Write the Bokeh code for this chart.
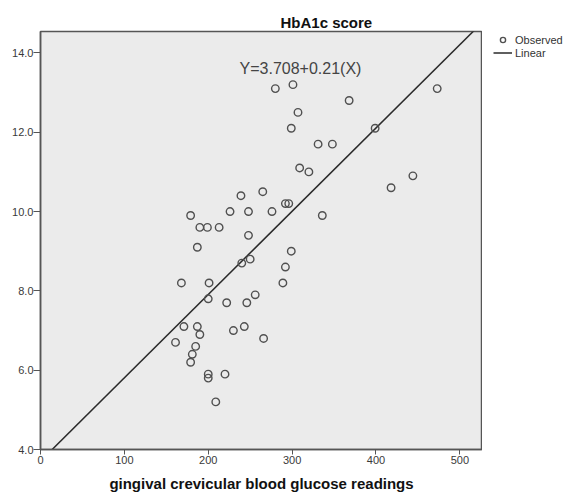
from bokeh.plotting import figure
from bokeh.layouts import row
from bokeh.models import Range1d, FixedTicker, PrintfTickFormatter, Label, Legend, LegendItem
from bokeh.embed import file_html
from bokeh.resources import INLINE

# gingival crevicular blood glucose readings (x) vs HbA1c score (y)
glucose = [280, 301, 307, 299, 331, 348, 309, 320, 239, 265, 292, 296, 179, 226, 248, 276,
           190, 199, 213, 248, 368, 473, 399, 444, 418, 336,
           187, 299, 240, 250, 292, 168, 201, 289, 200, 222, 246, 256, 171, 187, 190, 230,
           243, 161, 266, 185, 181, 179, 200, 200, 220, 209]
hba1c = [13.1, 13.2, 12.5, 12.1, 11.7, 11.7, 11.1, 11.0, 10.4, 10.5, 10.2, 10.2, 9.9, 10.0, 10.0, 10.0,
         9.6, 9.6, 9.6, 9.4, 12.8, 13.1, 12.1, 10.9, 10.6, 9.9,
         9.1, 9.0, 8.7, 8.8, 8.6, 8.2, 8.2, 8.2, 7.8, 7.7, 7.7, 7.9, 7.1, 7.1, 6.9, 7.0,
         7.1, 6.7, 6.8, 6.6, 6.4, 6.2, 5.9, 5.8, 5.9, 5.2]

intercept = 3.708
slope = 0.021
x_ticks = [0, 100, 200, 300, 400, 500]
y_ticks = [4, 6, 8, 10, 12, 14]
x_lim = [0, 527]
y_lim = [4, 14.54]

FONT = "Liberation Sans"
EDGE = "#555555"
MARK = "#505050"
FIT = "#2a2a2a"

p = figure(width=482, height=496, output_backend="svg", toolbar_location=None,
           x_range=Range1d(*x_lim), y_range=Range1d(*y_lim),
           min_border_left=40, min_border_right=0, min_border_top=31, min_border_bottom=47,
           title="HbA1c score")

p.title.align = "left"
p.title.offset = 240
p.title.standoff = 2
p.title.text_font = FONT
p.title.text_font_size = "15px"
p.title.text_font_style = "bold"
p.title.text_color = "#111111"

p.background_fill_color = "#ebebeb"
p.border_fill_color = "white"
p.outline_line_color = EDGE
p.outline_line_width = 1.5
p.xgrid.visible = False
p.ygrid.visible = False

line_x = x_lim
line_y = [intercept + slope * v for v in line_x]
p.line(line_x, line_y, line_color=FIT, line_width=1.5)
p.scatter(glucose, hba1c, size=7.5, fill_color=None, line_color=MARK, line_width=1.4)

for ax in (p.xaxis[0], p.yaxis[0]):
    ax.axis_line_color = EDGE
    ax.axis_line_width = 1.5
    ax.major_tick_line_color = EDGE
    ax.major_tick_in = 0
    ax.minor_tick_line_color = None
    ax.major_label_text_font = FONT
    ax.major_label_text_font_size = "11px"
    ax.major_label_text_color = "#3a3a3a"

p.xaxis.ticker = FixedTicker(ticks=x_ticks)
p.yaxis.ticker = FixedTicker(ticks=y_ticks)
p.yaxis.formatter = PrintfTickFormatter(format="%.1f")
p.xaxis.major_tick_out = 5
p.yaxis.major_tick_out = 7
p.xaxis.major_label_standoff = 1
p.yaxis.major_label_standoff = 0

p.xaxis.axis_label = "gingival crevicular blood glucose readings"
p.xaxis.axis_label_text_font = FONT
p.xaxis.axis_label_text_font_size = "15px"
p.xaxis.axis_label_text_font_style = "bold"
p.xaxis.axis_label_text_color = "#111111"
p.xaxis.axis_label_standoff = 8

p.add_layout(Label(x=310, y=13.61, text="Y=3.708+0.21(X)", text_font=FONT, text_font_size="16px",
                   text_align="center", text_baseline="middle", text_color="#444444"))

# legend panel to the right of the plot box (its data lies outside its view, only the key shows)
lg = figure(width=89, height=496, output_backend="svg", toolbar_location=None,
            x_range=Range1d(-2, -1), y_range=Range1d(-2, -1),
            x_axis_location=None, y_axis_location=None,
            min_border_left=9, min_border_right=0, min_border_top=31, min_border_bottom=47)
lg.outline_line_color = None
lg.background_fill_color = "white"
lg.border_fill_color = "white"
lg.xgrid.visible = False
lg.ygrid.visible = False
obs = lg.scatter(glucose, hba1c, size=7.5, fill_color=None, line_color=MARK, line_width=1.4)
lin = lg.line(line_x, line_y, line_color=FIT, line_width=1.5)

legend = Legend(items=[LegendItem(label="Observed", renderers=[obs]),
                       LegendItem(label="Linear", renderers=[lin])],
                location="top_left", glyph_width=19, glyph_height=13, label_height=13,
                label_standoff=3, padding=0, margin=2, spacing=0,
                border_line_color=None, background_fill_alpha=0,
                label_text_font=FONT, label_text_font_size="11px", label_text_color="#333333")
lg.add_layout(legend)

layout = row(p, lg)

open("out.html", "w").write(file_html(layout, INLINE))
